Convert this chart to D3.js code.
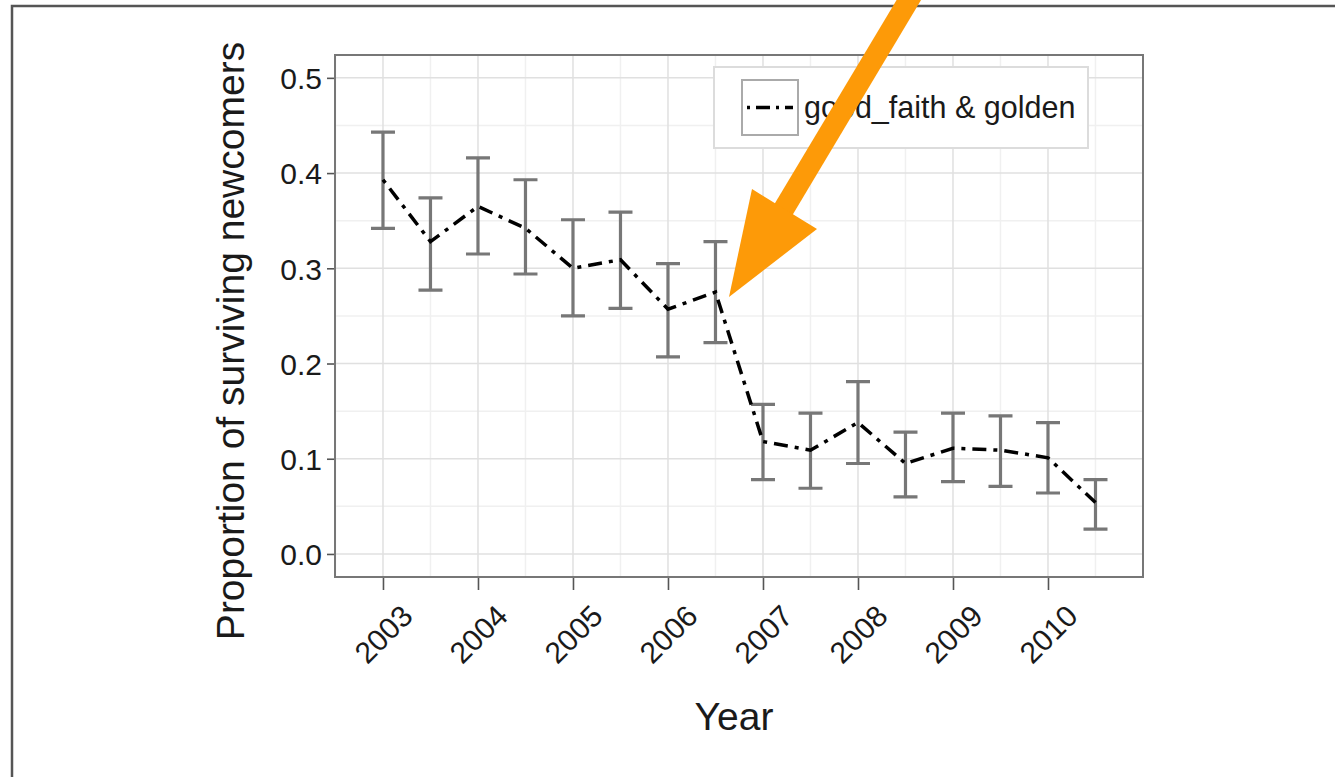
<!DOCTYPE html>
<html>
<head>
<meta charset="utf-8">
<script src="https://cdn.jsdelivr.net/npm/d3@7"></script>
<style>
  body { margin: 0; background: #fff; }
  svg { display: block; font-family: "Liberation Sans", Arial, sans-serif; }
</style>
</head>
<body>
<div id="chart"></div>
<script>
// values (half-year steps)
const periods = [2003, 2003.5, 2004, 2004.5, 2005, 2005.5, 2006, 2006.5,
                 2007, 2007.5, 2008, 2008.5, 2009, 2009.5, 2010, 2010.5];
const means = [0.393, 0.328, 0.365, 0.342, 0.300, 0.309, 0.257, 0.275,
               0.118, 0.109, 0.138, 0.095, 0.111, 0.109, 0.101, 0.054];
const lows  = [0.342, 0.277, 0.315, 0.294, 0.250, 0.258, 0.207, 0.222,
               0.078, 0.069, 0.095, 0.060, 0.076, 0.071, 0.064, 0.026];
const highs = [0.443, 0.374, 0.416, 0.393, 0.351, 0.359, 0.305, 0.328,
               0.157, 0.148, 0.181, 0.128, 0.148, 0.145, 0.138, 0.078];
const xTicks = [2003, 2004, 2005, 2006, 2007, 2008, 2009, 2010];
const yTicks = [0, 0.1, 0.2, 0.3, 0.4, 0.5];
const seriesName = "good_faith & golden";

const data = periods.map((p, i) => ({ p, m: means[i], lo: lows[i], hi: highs[i] }));

const W = 1335, H = 777;
const panel = { left: 335, top: 55, right: 1143, bottom: 577 };
const dotDash = "4,7,14,7";

const svg = d3.select("#chart").append("svg")
    .attr("width", W).attr("height", H);

// outer frame (only left and top edges visible in the crop)
svg.append("path")
    .attr("d", `M12,${H + 5} L12,6 L${W + 5},6`)
    .attr("fill", "none").attr("stroke", "#555").attr("stroke-width", 2.5);

const x = d3.scaleLinear().domain([2002.495, 2011.0]).range([panel.left, panel.right]);
const y = d3.scaleLinear().domain([-0.0242, 0.524]).range([panel.bottom, panel.top]);

const g = svg.append("g");

// minor grid
const xMinor = [2002.5].concat(xTicks.map(d => d + 0.5));
const yMinor = yTicks.slice(0, -1).map(d => d + 0.05);
g.selectAll(".xminor").data(xMinor).enter().append("line")
    .attr("x1", d => x(d)).attr("x2", d => x(d))
    .attr("y1", panel.top).attr("y2", panel.bottom)
    .attr("stroke", "#f0f0f0").attr("stroke-width", 1.5);
g.selectAll(".yminor").data(yMinor).enter().append("line")
    .attr("y1", d => y(d)).attr("y2", d => y(d))
    .attr("x1", panel.left).attr("x2", panel.right)
    .attr("stroke", "#f0f0f0").attr("stroke-width", 1.5);

// major grid
g.selectAll(".xmajor").data(xTicks).enter().append("line")
    .attr("x1", d => x(d)).attr("x2", d => x(d))
    .attr("y1", panel.top).attr("y2", panel.bottom)
    .attr("stroke", "#e0e0e0").attr("stroke-width", 1.5);
g.selectAll(".ymajor").data(yTicks).enter().append("line")
    .attr("y1", d => y(d)).attr("y2", d => y(d))
    .attr("x1", panel.left).attr("x2", panel.right)
    .attr("stroke", "#e0e0e0").attr("stroke-width", 1.5);

// axes
const xAxis = svg.append("g")
    .attr("transform", `translate(0,${panel.bottom})`)
    .call(d3.axisBottom(x).tickValues(xTicks).tickSize(13).tickFormat(d3.format("d")));
const yAxis = svg.append("g")
    .attr("transform", `translate(${panel.left},0)`)
    .call(d3.axisLeft(y).tickValues(yTicks).tickSize(8).tickFormat(d3.format(".1f")));

[xAxis, yAxis].forEach(a => {
  a.select(".domain").remove();
  a.selectAll(".tick line").attr("stroke", "#555").attr("stroke-width", 1.6);
  a.selectAll(".tick text").attr("fill", "#1a1a1a").attr("font-size", 30);
});
yAxis.selectAll(".tick text").attr("x", -13).attr("dy", "0.36em");
xAxis.selectAll(".tick text")
    .attr("text-anchor", "end")
    .attr("x", 0).attr("y", 0).attr("dy", 0)
    .attr("transform", "translate(31,41) rotate(-45)");

// panel border
svg.append("rect")
    .attr("x", panel.left).attr("y", panel.top)
    .attr("width", panel.right - panel.left).attr("height", panel.bottom - panel.top)
    .attr("fill", "none").attr("stroke", "#777").attr("stroke-width", 2);

// error bars
const cap = 12;
const bars = svg.append("g").attr("stroke", "#777").attr("stroke-width", 3.2).attr("fill", "none");
bars.selectAll("path").data(data).enter().append("path")
    .attr("d", d => {
      const cx = x(d.p), t = y(d.hi), b = y(d.lo);
      return `M${cx - cap},${t}H${cx + cap}M${cx},${t}V${b}M${cx - cap},${b}H${cx + cap}`;
    });

// mean line, dot-dash
const line = d3.line().x(d => x(d.p)).y(d => y(d.m));
svg.append("path").datum(data)
    .attr("d", line)
    .attr("fill", "none").attr("stroke", "#000").attr("stroke-width", 3.5)
    .attr("stroke-dasharray", dotDash);

// legend
const leg = svg.append("g");
leg.append("rect").attr("x", 714).attr("y", 67).attr("width", 374).attr("height", 81)
    .attr("fill", "#fff").attr("stroke", "#dcdcdc").attr("stroke-width", 2);
leg.append("rect").attr("x", 742).attr("y", 80).attr("width", 56).attr("height", 55)
    .attr("fill", "#fff").attr("stroke", "#aaa").attr("stroke-width", 2);
leg.append("line").attr("x1", 747).attr("x2", 793).attr("y1", 107.5).attr("y2", 107.5)
    .attr("stroke", "#000").attr("stroke-width", 3.5).attr("stroke-dasharray", "3,6,14,6");
leg.append("text").attr("x", 804).attr("y", 118)
    .attr("font-size", 30.5).attr("fill", "#1a1a1a").text(seriesName);

// axis titles
svg.append("text").attr("x", (panel.left + panel.right) / 2 - 5).attr("y", 730)
    .attr("text-anchor", "middle").attr("font-size", 39).attr("fill", "#1a1a1a")
    .text("Year");
svg.append("text")
    .attr("transform", `translate(244,${(panel.top + panel.bottom) / 2 + 25}) rotate(-90)`)
    .attr("text-anchor", "middle").attr("font-size", 39).attr("fill", "#1a1a1a")
    .text("Proportion of surviving newcomers");

// orange annotation arrow
const arrow = svg.append("g").attr("fill", "#fd9a08");
arrow.append("line").attr("x1", 916).attr("y1", -12).attr("x2", 782).attr("y2", 212)
    .attr("stroke", "#fd9a08").attr("stroke-width", 21);
arrow.append("path").attr("d", "M752,189 L817,229 L729,297 Z");
</script>
</body>
</html>
